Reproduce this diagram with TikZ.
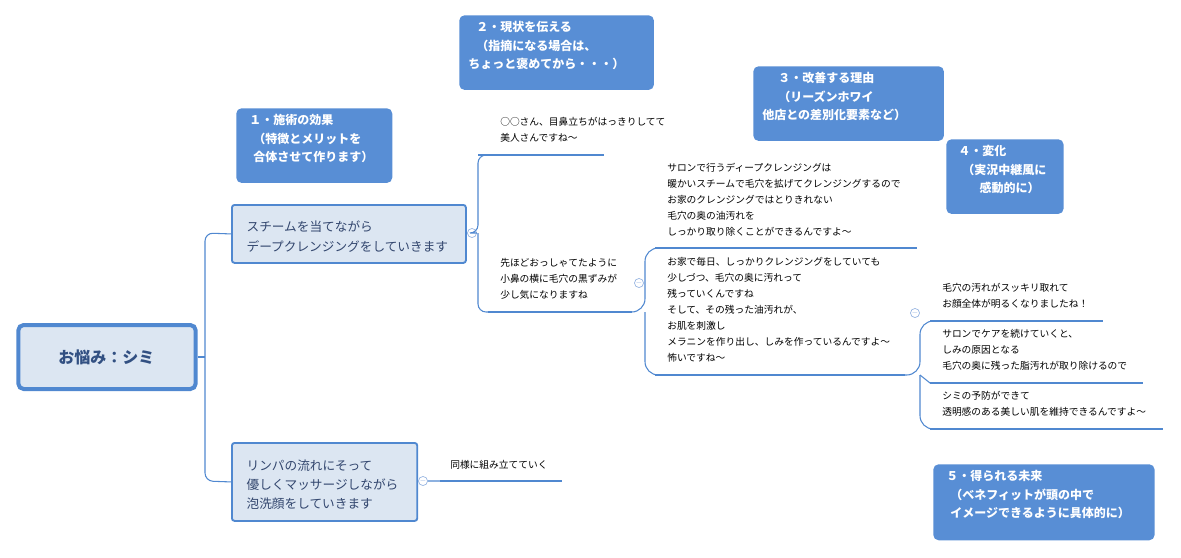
\documentclass[tikz,border=0pt]{standalone}
\usepackage{fontspec}
\setmainfont{Noto Sans CJK JP}
\begin{document}
\begin{tikzpicture}[x=0.75pt,y=-0.75pt,
  line/.style={draw=blue!45!cyan!60!black!60, line width=0.8pt, color={rgb,255:red,90;green,140;blue,210}},
  ul/.style={line width=2.2pt, draw={rgb,255:red,80;green,136;blue,208}},
  txt/.style={anchor=north west, align=left, font=\fontsize{7.3pt}{12pt}\selectfont, inner sep=0pt},
  topic/.style={draw={rgb,255:red,80;green,136;blue,208}, line width=1.4pt, fill={rgb,255:red,220;green,230;blue,242}, rounded corners=2pt, align=left, font=\fontsize{9.5pt}{14.5pt}\selectfont, text={rgb,255:red,50;green,70;blue,110}, anchor=north west, inner sep=0pt},
  lab/.style={fill={rgb,255:red,88;green,142;blue,213}, rounded corners=4pt, text=white, font=\bfseries\fontsize{9pt}{14pt}\selectfont, align=left, anchor=north west, inner sep=0pt},
  col/.style={circle, draw={rgb,255:red,150;green,180;blue,225}, line width=0.5pt, minimum size=6pt, inner sep=0pt, font=\fontsize{5pt}{5pt}\selectfont, text={rgb,255:red,150;green,180;blue,225}}]
\useasboundingbox (0,0) rectangle (1181,557);
\fill[white] (0,0) rectangle (1181,557);
\tikzset{cl/.style={draw={rgb,255:red,80;green,136;blue,208}, line width=0.8pt}}
% central
\node[draw={rgb,255:red,80;green,136;blue,208}, line width=3pt, fill={rgb,255:red,220;green,230;blue,242}, rounded corners=4pt, minimum width=174pt*0.75/0.75*0.75/0.75, text width=0pt, inner sep=0pt, minimum width=133pt, minimum height=48pt, font=\bfseries\fontsize{12pt}{12pt}\selectfont, text={rgb,255:red,50;green,80;blue,130}, align=center] (c) at (107,357) {\hspace*{-1pt}\makebox[0pt]{お悩み：シミ}};
% topics
\node[topic, minimum width=175.5pt, minimum height=43.5pt, text width=175.5pt] (a) at (231,204) {\hspace*{11pt}\parbox[t]{160pt}{\vspace*{4pt}スチームを当てながら\\デープクレンジングをしていきます}};
\node[topic, minimum width=139pt, minimum height=58.5pt, text width=139pt] (b) at (231,442) {\hspace*{11pt}\parbox[t]{128pt}{\vspace*{4pt}リンパの流れにそって\\優しくマッサージしながら\\泡洗顔をしていきます}};
\coordinate (j0) at (205,357);
\draw[cl] (c.east) -- (j0);
\draw[cl, rounded corners=6pt] (a.west) -- (205,233) -- (j0) -- (205,481) -- (b.west);
% branch A
\node[col] (ca) at (472,233) {$-$};
\draw[cl] (a.east) -- (ca);
\draw[cl, rounded corners=6pt] (ca) -- (478,233) -- (478,155) -- (500,155);
\draw[cl, rounded corners=6pt] (478,233) -- (478,312) -- (500,312);
\draw[ul] (478,155) -- (604,155);
\draw[ul] (488,312) -- (632,312);
\node[txt] (t1) at (500,117) {○○さん、目鼻立ちがはっきりしてて\\美人さんですね〜};
\node[txt] (t2) at (500,258) {先ほどおっしゃてたように\\小鼻の横に毛穴の黒ずみが\\少し気になりますね};
\node[col] (cb) at (639,283) {$-$};
% branch from t2
\draw[cl, rounded corners=10pt] (632,312) -- (645,312) -- (645,248) -- (665,248);
\draw[cl, rounded corners=10pt] (645,312) -- (645,375) -- (665,375);
\draw[ul] (655,248) -- (917,248);
\draw[ul] (655,375) -- (905,375);
\node[txt] (t3) at (667,163) {サロンで行うディープクレンジングは\\暖かいスチームで毛穴を拡げてクレンジングするので\\お家のクレンジングではとりきれない\\毛穴の奥の油汚れを\\しっかり取り除くことができるんですよ〜};
\node[txt] (t4) at (667,257) {お家で毎日、しっかりクレンジングをしていても\\少しづつ、毛穴の奥に汚れって\\残っていくんですね\\そして、その残った油汚れが、\\お肌を刺激し\\メラニンを作り出し、しみを作っているんですよ〜\\怖いですね〜};
\node[col] (cc) at (915,313) {$-$};
\draw[cl, rounded corners=10pt] (905,375) -- (920,375) -- (920,321) -- (935,321);
\draw[cl, rounded corners=10pt] (920,375) -- (920,429) -- (935,429);
\draw[cl] (920,375) -- (930,383);
\draw[ul] (930,321) -- (1103,321);
\draw[ul] (930,383) -- (1143,383);
\draw[ul] (930,429) -- (1163,429);
\node[txt] (t5) at (942,283) {毛穴の汚れがスッキリ取れて\\お顔全体が明るくなりましたね！};
\node[txt] (t6) at (942,329) {サロンでケアを続けていくと、\\しみの原因となる\\毛穴の奥に残った脂汚れが取り除けるので};
\node[txt] (t7) at (942,391) {シミの予防ができて\\透明感のある美しい肌を維持できるんですよ〜};
% branch B
\node[col] (cd) at (423,481) {$-$};
\draw[cl] (b.east) -- (cd) -- (440,481);
\draw[ul] (440,481) -- (562,481);
\node[txt] (t8) at (450,460) {同様に組み立てていく};
% labels
\node[lab, minimum width=117pt, minimum height=56pt] (l1) at (236,108) {};
\node[txt, text=white, font=\bfseries\fontsize{9pt}{14pt}\selectfont] at (249,114) {１・施術の効果\\\hspace*{3pt}（特徴とメリットを\\\hspace*{3pt}合体させて作ります）};
\node[lab, minimum width=146pt, minimum height=56pt] (l2) at (459,15) {};
\node[txt, text=white, font=\bfseries\fontsize{9pt}{14pt}\selectfont] at (468,21) {\hspace*{6pt}２・現状を伝える\\\hspace*{6pt}（指摘になる場合は、\\ちょっと褒めてから・・・）};
\node[lab, minimum width=143pt, minimum height=56pt] (l3) at (753,66) {};
\node[txt, text=white, font=\bfseries\fontsize{9pt}{14pt}\selectfont] at (762,72) {\hspace*{12pt}３・改善する理由\\\hspace*{12pt}（リーズンホワイ\\他店との差別化要素など）};
\node[lab, minimum width=88pt, minimum height=56pt] (l4) at (946,139) {};
\node[txt, text=white, font=\bfseries\fontsize{9pt}{14pt}\selectfont] at (958,145) {４・変化\\\hspace*{3pt}（実況中継風に\\\hspace*{16pt}感動的に）};
\node[lab, minimum width=166pt, minimum height=57pt] (l5) at (933,464) {};
\node[txt, text=white, font=\bfseries\fontsize{9pt}{14pt}\selectfont] at (946,470) {５・得られる未来\\\hspace*{3pt}（ベネフィットが頭の中で\\\hspace*{3pt}イメージできるように具体的に）};
\end{tikzpicture}
\end{document}
